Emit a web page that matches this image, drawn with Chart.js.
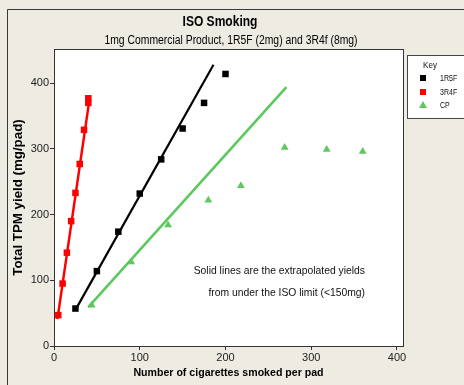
<!DOCTYPE html>
<html><head><meta charset="utf-8">
<script src="https://cdn.jsdelivr.net/npm/chart.js@4"></script>
<style>html,body{margin:0;padding:0;background:#EEEBE2;}#wrap{width:464px;height:385px;}</style>
</head><body><div id="wrap"><canvas id="c" width="464" height="385"></canvas></div>
<script>
const titleText = 'ISO Smoking';
const subtitleText = '1mg Commercial Product, 1R5F (2mg) and 3R4f (8mg)';
const xTitle = 'Number of cigarettes smoked per pad';
const yTitle = 'Total TPM yield (mg/pad)';
const noteLines = ['Solid lines are the extrapolated yields', 'from under the ISO limit (<150mg)'];
const seriesNames = ['1R5F', '3R4F', 'CP'];
const xTicks = [0, 100, 200, 300, 400];
const yTicks = [0, 100, 200, 300, 400];

const x1R5F = [25, 50, 75, 100, 125, 150, 175, 200];
const y1R5F = [57, 114, 174, 232, 284, 331, 370, 414];
const x3R4F = [5, 10, 15, 20, 25, 30, 35, 40, 40];
const y3R4F = [47, 95, 142, 190, 233, 277, 329, 370, 377];
const xCP = [44, 90, 133, 180, 218, 269, 318, 360];
const yCP = [62, 128, 184, 222, 244, 302, 299, 296];

const fit1R5FX = [25, 186];
const fit1R5FY = [55, 428];
const fit3R4FX = [4, 42];
const fit3R4FY = [41, 381];
const fitCPX = [40, 271];
const fitCPY = [59, 394];

const pts = (xs, ys) => xs.map((x, i) => ({x: x, y: ys[i]}));
const FONT = '"Liberation Sans", Arial, sans-serif';
const colors = ['#000000', '#FF0000', '#5DC85D'];
const styles = ['rect', 'rect', 'triangle'];

function condensedText(ctx, text, x, y, sx) {
  ctx.save();
  ctx.translate(x, y);
  ctx.scale(sx, 1);
  ctx.fillText(text, 0, 0);
  ctx.restore();
}

const decor = {
  id: 'decor',
  beforeDraw(chart) {
    const ctx = chart.ctx, a = chart.chartArea;
    ctx.save();
    ctx.fillStyle = '#EEEBE2';
    ctx.fillRect(0, 0, 464, 385);
    ctx.strokeStyle = '#3a3a3a';
    ctx.lineWidth = 1;
    ctx.beginPath();
    ctx.moveTo(7.5, 385); ctx.lineTo(7.5, 9.5); ctx.lineTo(464, 9.5);
    ctx.stroke();
    ctx.fillStyle = '#FFFFFF';
    ctx.fillRect(a.left, a.top, a.right - a.left, a.bottom - a.top);
    ctx.restore();
  },
  afterDraw(chart) {
    const ctx = chart.ctx, a = chart.chartArea;
    ctx.save();
    ctx.strokeStyle = '#333';
    ctx.lineWidth = 1;
    ctx.strokeRect(Math.round(a.left) + 0.5, Math.round(a.top) + 0.5, Math.round(a.right - a.left), Math.round(a.bottom - a.top));
    // titles
    ctx.fillStyle = '#000';
    ctx.textAlign = 'center';
    ctx.textBaseline = 'middle';
    ctx.font = 'bold 14px ' + FONT;
    condensedText(ctx, titleText, 220, 22, 0.86);
    ctx.font = '12.5px ' + FONT;
    condensedText(ctx, subtitleText, 231, 41, 0.83);
    // note
    ctx.font = '11px ' + FONT;
    ctx.textAlign = 'right';
    ctx.fillStyle = '#111';
    condensedText(ctx, noteLines[0], 365, 271, 0.94);
    condensedText(ctx, noteLines[1], 365, 293, 0.94);
    // legend
    ctx.fillStyle = '#FFFFFF';
    ctx.fillRect(407, 55, 70, 63);
    ctx.strokeStyle = '#444';
    ctx.strokeRect(407.5, 55.5, 70, 63);
    ctx.fillStyle = '#111';
    ctx.textAlign = 'center';
    ctx.font = '9.5px ' + FONT;
    condensedText(ctx, 'Key', 430, 65, 0.85);
    const rows = [78, 92, 105];
    ctx.textAlign = 'left';
    ctx.font = '9px ' + FONT;
    seriesNames.forEach((n, i) => {
      ctx.fillStyle = colors[i];
      if (styles[i] === 'rect') {
        ctx.fillRect(420, rows[i] - 3, 6, 6);
      } else {
        ctx.beginPath();
        ctx.moveTo(423, rows[i] - 4); ctx.lineTo(427, rows[i] + 3); ctx.lineTo(419, rows[i] + 3);
        ctx.closePath(); ctx.fill();
      }
      ctx.fillStyle = '#111';
      condensedText(ctx, n, 440, rows[i] + 0.5, 0.78);
    });
    ctx.restore();
  }
};

const scaleCommon = (ticksArr, max) => ({
  type: 'linear', min: 0, max: max,
  afterBuildTicks: s => { s.ticks = ticksArr.map(v => ({value: v})); },
  ticks: {font: {family: FONT, size: 11}, color: '#222', padding: 1},
  grid: {drawOnChartArea: false, drawTicks: true, tickLength: 4, color: '#333'},
  border: {color: '#333', width: 1}
});

const xs = scaleCommon(xTicks, 407);
xs.afterFit = s => { s.height = 39; };
xs.title = {display: true, text: xTitle, font: {family: FONT, size: 10.6, weight: 'bold'}, color: '#000', padding: {top: 0, bottom: 5.5}};
const ys = scaleCommon(yTicks, 452);
ys.afterFit = s => { s.width = 54; };
ys.title = {display: true, text: yTitle, font: {family: FONT, size: 13.3, weight: 'bold'}, color: '#000', padding: {top: 10, bottom: 0}};

new Chart(document.getElementById('c'), {
  type: 'scatter',
  data: {
    datasets: [
      {label: seriesNames[0], data: pts(x1R5F, y1R5F), pointStyle: 'rect', pointRadius: 4.6, backgroundColor: colors[0], borderColor: colors[0], borderWidth: 0},
      {label: seriesNames[1], data: pts(x3R4F, y3R4F), pointStyle: 'rect', pointRadius: 4.6, backgroundColor: colors[1], borderColor: colors[1], borderWidth: 0},
      {label: seriesNames[2], data: pts(xCP, yCP), pointStyle: 'triangle', pointRadius: 4.5, backgroundColor: colors[2], borderColor: colors[2], borderWidth: 0},
      {label: seriesNames[0] + ' fit', data: pts(fit1R5FX, fit1R5FY), showLine: true, pointRadius: 0, borderColor: colors[0], borderWidth: 2.2},
      {label: seriesNames[1] + ' fit', data: pts(fit3R4FX, fit3R4FY), showLine: true, pointRadius: 0, borderColor: colors[1], borderWidth: 2.5},
      {label: seriesNames[2] + ' fit', data: pts(fitCPX, fitCPY), showLine: true, pointRadius: 0, borderColor: colors[2], borderWidth: 2.6}
    ]
  },
  options: {
    responsive: false, animation: false, devicePixelRatio: 1,
    layout: {padding: {top: 49, right: 61, bottom: 0, left: 0}},
    plugins: {legend: {display: false}, title: {display: false}, tooltip: {enabled: false}},
    scales: {x: xs, y: ys}
  },
  plugins: [decor]
});
</script></body></html>
